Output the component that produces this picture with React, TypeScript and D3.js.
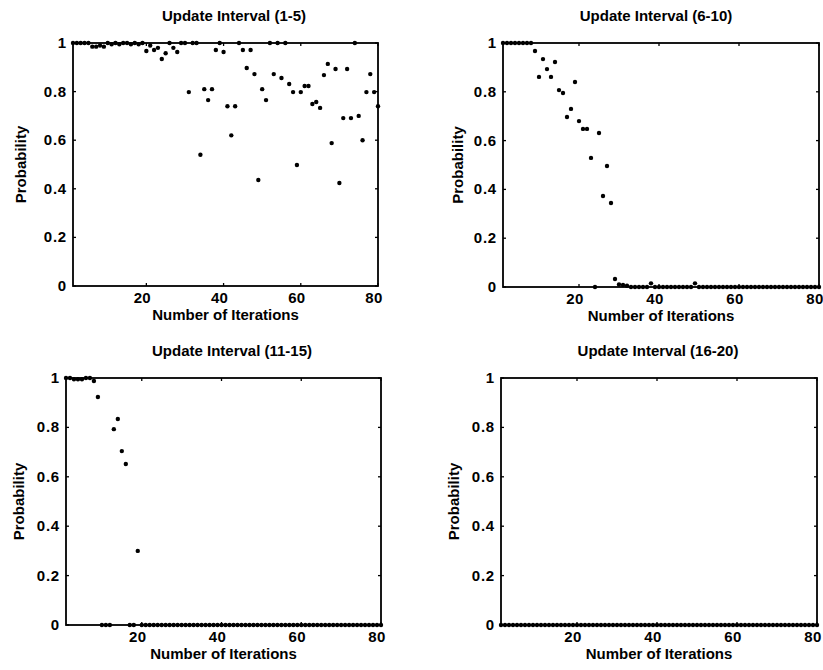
import React from 'react';
import * as d3 from 'd3';

// ---- data ----
const iterations = d3.range(1, 81);
const xTicks = [20, 40, 60, 80];
const yTicks = [0, 0.2, 0.4, 0.6, 0.8, 1];
const yTickLabels = ['0', '0.2', '0.4', '0.6', '0.8', '1'];
const titles = ['Update Interval (1-5)', 'Update Interval (6-10)', 'Update Interval (11-15)', 'Update Interval (16-20)'];

const probInterval1to5 = [
  1, 1, 1, 1, 1, 0.985, 0.985, 0.99, 0.985, 1,
  0.995, 1, 0.995, 1, 1, 0.995, 1, 0.995, 1, 0.967,
  0.99, 0.971, 0.98, 0.934, 0.958, 1, 0.98, 0.963, 1, 1,
  0.798, 1, 1, 0.54, 0.81, 0.765, 0.81, 0.971, 1, 0.963,
  0.74, 0.62, 0.74, 1, 0.971, 0.897, 0.971, 0.872, 0.436, 0.81,
  0.765, 1, 0.872, 1, 0.856, 1, 0.831, 0.798, 0.498, 0.798,
  0.823, 0.823, 0.749, 0.757, 0.733, 0.868, 0.914, 0.588, 0.893, 0.424,
  0.691, 0.893, 0.691, 1, 0.7, 0.6, 0.798, 0.872, 0.798, 0.74,
];
const probInterval6to10 = [
  1, 1, 1, 1, 1, 1, 1, 1, 0.967, 0.861,
  0.934, 0.893, 0.861, 0.922, 0.807, 0.795, 0.697, 0.73, 0.84, 0.68,
  0.648, 0.648, 0.529, 0, 0.631, 0.373, 0.496, 0.344, 0.033, 0.01,
  0.008, 0.005, 0, 0, 0, 0, 0, 0.015, 0, 0,
  0, 0, 0, 0, 0, 0, 0, 0, 0.015, 0,
  0, 0, 0, 0, 0, 0, 0, 0, 0, 0,
  0, 0, 0, 0, 0, 0, 0, 0, 0, 0,
  0, 0, 0, 0, 0, 0, 0, 0, 0, 0,
];
const probInterval11to15 = [
  1, 1, 0.995, 0.995, 0.995, 1, 1, 0.988, 0.923, 0,
  0, 0, 0.793, 0.834, 0.704, 0.652, 0, 0, 0.3, 0,
  0, 0, 0, 0, 0, 0, 0, 0, 0, 0,
  0, 0, 0, 0, 0, 0, 0, 0, 0, 0,
  0, 0, 0, 0, 0, 0, 0, 0, 0, 0,
  0, 0, 0, 0, 0, 0, 0, 0, 0, 0,
  0, 0, 0, 0, 0, 0, 0, 0, 0, 0,
  0, 0, 0, 0, 0, 0, 0, 0, 0, 0,
];
const probInterval16to20 = [
  0, 0, 0, 0, 0, 0, 0, 0, 0, 0,
  0, 0, 0, 0, 0, 0, 0, 0, 0, 0,
  0, 0, 0, 0, 0, 0, 0, 0, 0, 0,
  0, 0, 0, 0, 0, 0, 0, 0, 0, 0,
  0, 0, 0, 0, 0, 0, 0, 0, 0, 0,
  0, 0, 0, 0, 0, 0, 0, 0, 0, 0,
  0, 0, 0, 0, 0, 0, 0, 0, 0, 0,
  0, 0, 0, 0, 0, 0, 0, 0, 0, 0,
];
const seriesList = [probInterval1to5, probInterval6to10, probInterval11to15, probInterval16to20];

// ---- layout ----
const frames = [
  { l: 73, r: 378, t: 43, b: 286, titleX: 234, ylabX: 26 },
  { l: 503, r: 819, t: 43, b: 287, titleX: 656, ylabX: 463 },
  { l: 66, r: 381, t: 378, b: 625, titleX: 232, ylabX: 24 },
  { l: 501, r: 817, t: 378, b: 625, titleX: 658, ylabX: 459 },
];

const FONT = '"Liberation Sans", Arial, Helvetica, sans-serif';

function Panel({ idx }: { idx: number }) {
  const f = frames[idx];
  const values = seriesList[idx];
  const x = d3.scaleLinear().domain([1, 80]).range([f.l, f.r]);
  const y = d3.scaleLinear().domain([0, 1]).range([f.b, f.t]);
  const tl = 3;
  const cx = (f.l + f.r) / 2;
  const cy = (f.t + f.b) / 2;
  return (
    <g>
      <rect x={f.l} y={f.t} width={f.r - f.l} height={f.b - f.t} fill="none" stroke="#000" strokeWidth={1.8} />
      {yTicks.map((v, i) => (
        <g key={'y' + i}>
          <line x1={f.l} x2={f.l + tl} y1={y(v)} y2={y(v)} stroke="#000" strokeWidth={1.3} />
          <line x1={f.r} x2={f.r - tl} y1={y(v)} y2={y(v)} stroke="#000" strokeWidth={1.3} />
          <text x={f.l - 6} y={y(v) + 5} textAnchor="end" fontSize={15} fontWeight="bold" fontFamily={FONT} letterSpacing={0.8}>
            {yTickLabels[i]}
          </text>
        </g>
      ))}
      {xTicks.map((v, i) => (
        <g key={'x' + i}>
          <line x1={x(v)} x2={x(v)} y1={f.b} y2={f.b - tl} stroke="#000" strokeWidth={1.3} />
          <line x1={x(v)} x2={x(v)} y1={f.t} y2={f.t + tl} stroke="#000" strokeWidth={1.3} />
          <text x={x(v) - 4} y={f.b + 17} textAnchor="middle" fontSize={15} fontWeight="bold" fontFamily={FONT} letterSpacing={0.3}>
            {v}
          </text>
        </g>
      ))}
      {iterations.map((it, i) => (
        <circle key={'p' + i} cx={x(it)} cy={y(values[i])} r={2.2} fill="#000" />
      ))}
      <text x={f.titleX} y={f.t - 22} textAnchor="middle" fontSize={15} fontWeight="bold" fontFamily={FONT}>
        {titles[idx]}
      </text>
      <text x={cx} y={f.b + 34} textAnchor="middle" fontSize={15} fontWeight="bold" fontFamily={FONT}>
        Number of Iterations
      </text>
      <text
        transform={`translate(${f.ylabX},${cy}) rotate(-90)`}
        textAnchor="middle"
        fontSize={15}
        fontWeight="bold"
        fontFamily={FONT}
      >
        Probability
      </text>
    </g>
  );
}

export default function App() {
  return (
    <svg
      width={823}
      height={670}
      style={{ position: 'absolute', left: 0, top: 0, background: '#fff' }}
    >
      <rect x={0} y={0} width={823} height={670} fill="#fff" />
      {[0, 1, 2, 3].map((i) => (
        <Panel key={i} idx={i} />
      ))}
    </svg>
  );
}
